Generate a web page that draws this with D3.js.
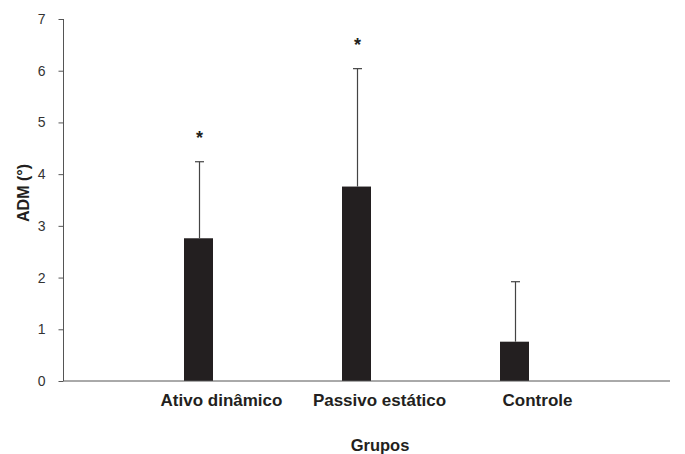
<!DOCTYPE html>
<html><head><meta charset="utf-8">
<script src="https://cdn.jsdelivr.net/npm/d3@7"></script>
<style>body{margin:0;background:#fff;} svg{display:block;font-family:"Liberation Sans",Arial,sans-serif;}</style>
</head><body><svg id="c" width="685" height="454"></svg>
<script>
const categories = ["Ativo dinâmico", "Passivo estático", "Controle"];
const means = [2.76, 3.76, 0.76];
const sds = [1.48, 2.28, 1.16];
const significant = [true, true, false];
const yTicks = [0, 1, 2, 3, 4, 5, 6, 7];

const svg = d3.select("#c");
const x0 = 63.5, x1 = 670, yBase = 381, yTop = 19;
const y = d3.scaleLinear().domain([0, 7]).range([yBase, yTop]);
const x = d3.scaleBand().domain(categories).range([119.5, 593.5]);
const barW = 29;
const axisColor = "#555";

// bars
svg.selectAll("rect.bar").data(categories).enter().append("rect")
  .attr("x", d => x(d) + x.bandwidth()/2 - barW/2)
  .attr("width", barW)
  .attr("y", (d,i) => y(means[i]))
  .attr("height", (d,i) => yBase - y(means[i]))
  .attr("fill", "#231f20");

// error bars
const eg = svg.append("g").attr("stroke", "#444").attr("stroke-width", 1.2);
categories.forEach((c, i) => {
  const cx = Math.round(x(c) + x.bandwidth()/2) + 0.5;
  eg.append("line").attr("x1", cx).attr("x2", cx).attr("y1", y(means[i])).attr("y2", y(means[i] + sds[i]));
  eg.append("line").attr("x1", cx - 4.5).attr("x2", cx + 4.5).attr("y1", y(means[i] + sds[i])).attr("y2", y(means[i] + sds[i]));
  if (significant[i]) {
    svg.append("text").attr("x", cx).attr("y", y(means[i] + sds[i]) - 18)
      .attr("text-anchor", "middle").attr("font-size", 18).attr("font-weight", "bold")
      .attr("fill", "#231f20").text("*");
  }
});

// y axis
const yAxis = d3.axisLeft(y).tickValues(yTicks).tickSize(5).tickPadding(13).tickFormat(d3.format("d"));
const ga = svg.append("g").attr("transform", `translate(${x0},0)`).call(yAxis);
ga.select(".domain").attr("stroke", axisColor).attr("d", `M-0,${yTop}V${yBase}`);
ga.selectAll(".tick line").attr("stroke", axisColor);
ga.selectAll(".tick text").attr("font-size", 14).attr("fill", "#333").attr("font-family", "Liberation Sans, Arial, sans-serif");

// x axis
const xAxis = d3.axisBottom(x).tickSize(0).tickPadding(13);
const gx = svg.append("g").attr("transform", `translate(0,${yBase})`).call(xAxis);
gx.select(".domain").attr("stroke", axisColor).attr("d", `M${x0},0H${x1}`);
gx.selectAll(".tick text").attr("font-size", 17).attr("font-weight", "bold").attr("fill", "#231f20")
  .attr("dx", 23)
  .attr("font-family", "Liberation Sans, Arial, sans-serif");

// axis titles
svg.append("text").attr("x", 380).attr("y", 451).attr("text-anchor", "middle")
  .attr("font-size", 16.5).attr("font-weight", "bold").attr("fill", "#231f20").text("Grupos");
svg.append("text").attr("transform", "translate(29,193) rotate(-90)").attr("text-anchor", "middle")
  .attr("font-size", 16).attr("font-weight", "bold").attr("fill", "#231f20").text("ADM (°)");
</script></body></html>
